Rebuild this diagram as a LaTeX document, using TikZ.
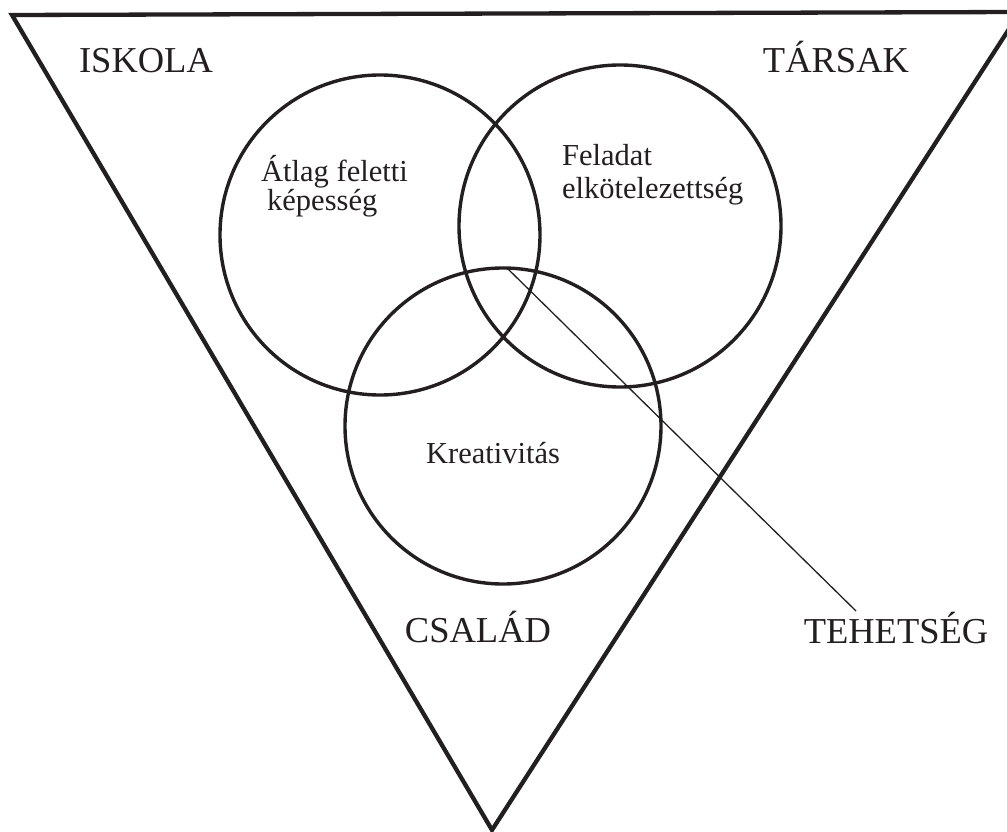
\documentclass[tikz,border=0pt]{standalone}
\usepackage{fontspec}
\setmainfont{Liberation Serif}
\definecolor{ink}{HTML}{231F20}
\begin{document}
\begin{tikzpicture}[x=1pt,y=-1pt,
  frame/.style={draw=ink,line width=4.3pt,line join=miter},
  ring/.style={draw=ink,line width=3.4pt,circle,inner sep=0pt},
  leader/.style={draw=ink,line width=1.3pt},
  big/.style={text=ink,inner sep=0pt,font=\fontsize{36.5}{40}\selectfont},
  small/.style={text=ink,inner sep=0pt,font=\fontsize{30.5}{34}\selectfont}]
\clip (0,0) rectangle (1007,832);
% outer triangle
\coordinate (tl) at (12,15);
\coordinate (tr) at (1020,12);
\coordinate (bt) at (492,830);
\draw[frame] (tl) -- (tr) -- (bt) -- cycle;
% three overlapping circles
\node[ring,minimum size=320pt] (abil) at (380,235) {};
\node[ring,minimum size=322pt] (task) at (620,226) {};
\node[ring,minimum size=316pt] (crea) at (503,426) {};
% circle labels
\node[small,anchor=base west] (abil1) at (261,182) {Átlag feletti};
\node[small,anchor=base west] (abil2) at (267,210) {képesség};
\node[small,anchor=base west] (task1) at (562,165) {Feladat};
\node[small,anchor=base west] (task2) at (562,198) {elkötelezettség};
\node[small,anchor=base] (crea1) at (493,463) {Kreativitás};
% surrounding factors
\node[big,anchor=base] (school) at (146,73) {ISKOLA};
\node[big,anchor=base] (peers) at (836,73) {TÁRSAK};
\node[big,anchor=base] (family) at (478,642) {CSALÁD};
\node[big,anchor=base] (talent) at (896,643) {TEHETSÉG};
% leader from the common region to the label
\coordinate (core) at (508,269);
\coordinate (tip) at (856,611);
\draw[leader] (core) -- (tip);
\end{tikzpicture}
\end{document}
